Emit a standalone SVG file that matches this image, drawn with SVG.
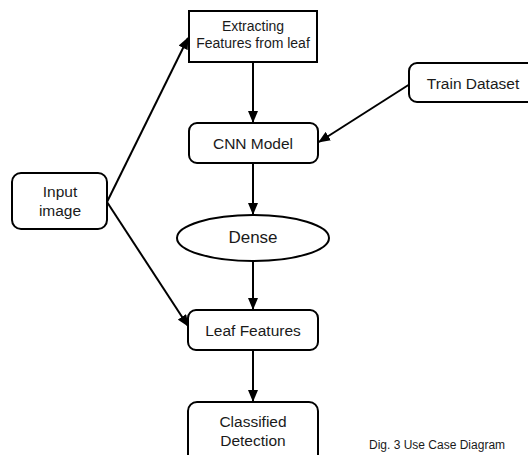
<svg xmlns="http://www.w3.org/2000/svg" width="528" height="455" viewBox="0 0 528 455">
<style>
.box{fill:#fff;stroke:#000;stroke-width:2}
.t{font-family:"Liberation Sans",Arial,sans-serif;font-size:15.5px;fill:#1a1a1a;text-anchor:middle}
.s{font-size:14px}
.c{font-family:"Liberation Sans",Arial,sans-serif;font-size:12px;fill:#1a1a1a}
.e{fill:none;stroke:#000;stroke-width:2}
</style>
<defs>
<marker id="ah" markerWidth="12" markerHeight="10" refX="11" refY="5" orient="auto" markerUnits="userSpaceOnUse">
<path d="M0,0 L12,5 L0,10 Z" fill="#000"/>
</marker>
</defs>
<rect width="528" height="455" fill="#fff"/>
<g id="connectors">
<line class="e" x1="107" y1="202" x2="188" y2="38" marker-end="url(#ah)"/>
<line class="e" x1="107" y1="202" x2="188" y2="326" marker-end="url(#ah)"/>
<line class="e" x1="410" y1="84" x2="319" y2="142" marker-end="url(#ah)"/>
<line class="e" x1="253" y1="62" x2="253" y2="122" marker-end="url(#ah)"/>
<line class="e" x1="253" y1="163" x2="253" y2="214" marker-end="url(#ah)"/>
<line class="e" x1="253" y1="261" x2="253" y2="309" marker-end="url(#ah)"/>
<line class="e" x1="253" y1="350" x2="253" y2="401" marker-end="url(#ah)"/>
</g>
<g id="extracting">
<rect class="box" x="189" y="11" width="128" height="51"/>
<text class="t s" x="253" y="31">Extracting</text>
<text class="t s" x="253" y="48">Features from leaf</text>
</g>
<g id="train">
<rect class="box" x="409" y="63" width="130" height="39" rx="8"/>
<text class="t" x="473" y="89">Train Dataset</text>
</g>
<g id="input">
<rect class="box" x="12" y="173" width="95" height="56" rx="9"/>
<text class="t" x="60" y="197">Input</text>
<text class="t" x="60" y="216">image</text>
</g>
<g id="cnn">
<rect class="box" x="189" y="123" width="129" height="40" rx="8"/>
<text class="t" x="253" y="149">CNN Model</text>
</g>
<g id="dense">
<ellipse class="box" cx="253" cy="238" rx="76" ry="23"/>
<text class="t" x="253" y="243" style="font-size:17px">Dense</text>
</g>
<g id="leaf">
<rect class="box" x="188" y="310" width="130" height="40" rx="8"/>
<text class="t" x="253" y="336">Leaf Features</text>
</g>
<g id="classified">
<rect class="box" x="188" y="402" width="130" height="62" rx="9"/>
<text class="t" x="253" y="427">Classified</text>
<text class="t" x="253" y="446">Detection</text>
</g>
<text class="c" x="369" y="449">Dig. 3 Use Case Diagram</text>
</svg>
